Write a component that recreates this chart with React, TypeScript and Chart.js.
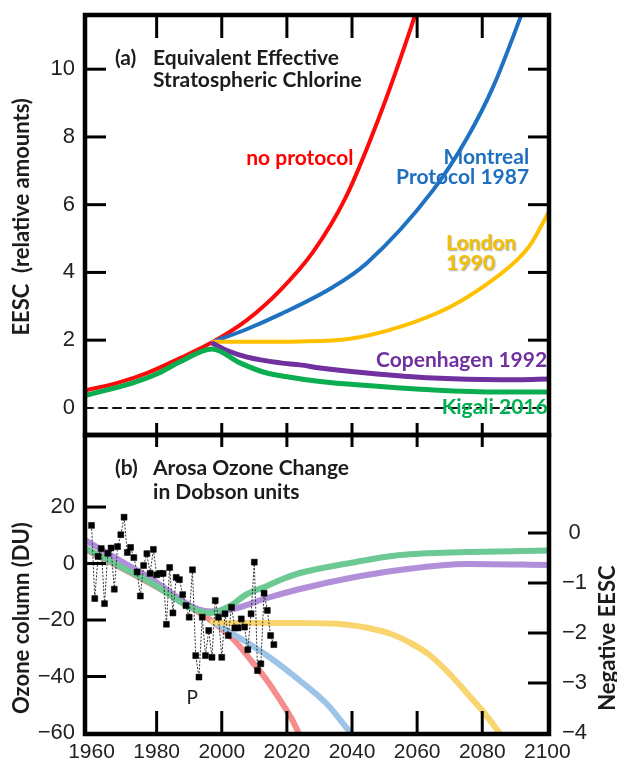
import React, { useEffect, useRef } from 'react';
import { Chart, registerables } from 'chart.js';

Chart.register(...registerables);

// ---------- axes ----------
const yearTicks = [1960, 1980, 2000, 2020, 2040, 2060, 2080, 2100];
const eescTicks = [0, 2, 4, 6, 8, 10];
const ozoneTicks = [-60, -40, -20, 0, 20];
const negEescTicks = [-4, -3, -2, -1, 0];

// ---------- panel (a): EESC ----------
const zeroYears = [1958, 2100.5];
const zeroEESC = [0, 0];

const noProtocolYears = [1958.6, 1968, 1977, 1987.2, 1997.3, 2007.8, 2018, 2028, 2038, 2048, 2058, 2062];
const noProtocolEESC = [0.53, 0.74, 1.03, 1.47, 1.95, 2.6, 3.48, 4.6, 6.2, 8.5, 11.2, 12.4];

const montrealYears = [1997.3, 2007.8, 2017.9, 2034.2, 2044.6, 2064.9, 2075.3, 2083.3, 2091.6, 2093.5];
const montrealEESC = [1.95, 2.33, 2.76, 3.57, 4.28, 6.43, 7.96, 9.47, 11.5, 12.0];

const londonYears = [1997.3, 2010, 2024, 2039.4, 2054.7, 2070.1, 2080.2, 2090.7, 2095, 2100.5];
const londonEESC = [1.95, 1.95, 1.96, 2.04, 2.39, 2.98, 3.57, 4.37, 4.85, 5.8];

const copenhagenYears = [1997.3, 2002, 2007.8, 2017.9, 2024, 2030.2, 2044.6, 2064.9, 2085.5, 2100.5];
const copenhagenEESC = [1.9, 1.68, 1.5, 1.33, 1.27, 1.18, 1.03, 0.88, 0.83, 0.85];

const kigaliYears = [1958.6, 1972.7, 1980, 1987.2, 1997, 2005.6, 2012.7, 2020, 2030.2, 2044.6, 2064.9, 2085.5, 2100.5];
const kigaliEESC = [0.38, 0.74, 1.0, 1.36, 1.74, 1.33, 1.06, 0.92, 0.78, 0.66, 0.53, 0.47, 0.47];

// ---------- panel (b): Arosa ozone (DU) ----------
const arosaYears = [
  1960, 1961, 1962, 1963, 1964, 1965, 1966, 1967, 1968, 1969,
  1970, 1971, 1972, 1973, 1974, 1975, 1976, 1977, 1978, 1979,
  1980, 1981, 1982, 1983, 1984, 1985, 1986, 1987, 1988, 1989,
  1990, 1991, 1992, 1993, 1994, 1995, 1996, 1997, 1998, 1999,
  2000, 2001, 2002, 2003, 2004, 2005, 2006, 2007, 2008, 2009,
  2010, 2011, 2012, 2013, 2014, 2015, 2016,
];
const arosaOzoneDU = [
  13.5, -12.4, 2.5, 5.3, -14.2, 3.6, 5.5, -9.1, 6, 10.2,
  16.4, 3.9, 5.7, 2.1, -3, -11.5, -0.7, 3.5, -3.5, 5,
  -4, -3.5, -3.5, -21.5, -1.4, -17.5, -4.9, -5.7, -11, -14.9,
  -19, -2.2, -32.6, -40.2, -19, -32.6, -23.7, -33.2, -13.1, -19,
  -33.2, -17.8, -25.5, -15.5, -22.8, -22.8, -19.6, -22.5, -30.5, -17.8,
  0.5, -37.9, -35.5, -10.5, -16.6, -25.5, -28.7,
];

// ---------- panel (b): negative EESC (right axis) ----------
const kigaliNegYears = [1958, 1977, 1996.4, 2002.5, 2007.8, 2013.9, 2018, 2024, 2039.4, 2054.7, 2075.3, 2100.5];
const kigaliNeg = [-0.3, -0.95, -1.6, -1.46, -1.22, -1.06, -0.94, -0.8, -0.6, -0.44, -0.38, -0.35];

const copenhagenNegYears = [1958, 1977, 1996.4, 2003.5, 2013.9, 2024, 2039.4, 2054.7, 2075.3, 2100.5];
const copenhagenNeg = [-0.14, -0.86, -1.57, -1.52, -1.3, -1.12, -0.9, -0.74, -0.62, -0.64];

const noProtocolNegYears = [1958, 1977, 1988, 1997.3, 2003.5, 2009.6, 2013.9, 2018, 2021.5, 2025];
const noProtocolNeg = [-0.32, -0.97, -1.38, -1.78, -2.12, -2.6, -2.95, -3.35, -3.72, -4.2];

const montrealNegYears = [1997.3, 2005, 2013.9, 2024.5, 2032.3, 2040.5];
const montrealNeg = [-1.78, -2.08, -2.45, -2.98, -3.42, -4.08];

const londonNegYears = [1997.3, 2004, 2024, 2038, 2045, 2052, 2058, 2064, 2070, 2075, 2080, 2086.5];
const londonNeg = [-1.78, -1.8, -1.8, -1.83, -1.9, -2.02, -2.2, -2.45, -2.82, -3.18, -3.55, -4.1];

// ---------- annotations (anchored in data coordinates) ----------
type Note = {
  text: string; year: number; value: number; align: CanvasTextAlign; color: string;
  size: number; bold?: boolean; rotate?: boolean; shadow?: boolean;
};
const DARK = '#1c1c1c';
const panelANotes: Note[] = [
  { text: '(a)', year: 1967.2, value: 10.33, align: 'left', color: DARK, size: 21, bold: true },
  { text: 'Equivalent Effective', year: 1978.9, value: 10.33, align: 'left', color: DARK, size: 21, bold: true },
  { text: 'Stratospheric Chlorine', year: 1978.9, value: 9.68, align: 'left', color: DARK, size: 21, bold: true },
  { text: 'no protocol', year: 2024, value: 7.38, align: 'center', color: '#ff0000', size: 21, bold: true },
  { text: 'Montreal', year: 2094.4, value: 7.41, align: 'right', color: '#1f6fc1', size: 21, bold: true },
  { text: 'Protocol 1987', year: 2094.4, value: 6.82, align: 'right', color: '#1f6fc1', size: 21, bold: true },
  { text: 'London', year: 2068.9, value: 4.87, align: 'left', color: '#f5c000', size: 21, bold: true, shadow: true },
  { text: '1990', year: 2068.9, value: 4.28, align: 'left', color: '#f5c000', size: 21, bold: true, shadow: true },
  { text: 'Copenhagen 1992', year: 2047.4, value: 1.41, align: 'left', color: '#7030a0', size: 21, bold: true },
  { text: 'Kigali 2016', year: 2067.6, value: 0.03, align: 'left', color: '#00b050', size: 21, bold: true },
  { text: 'EESC  (relative amounts)', year: 1938.7, value: 5.64, align: 'center', color: DARK, size: 22, bold: true, rotate: true },
];
const panelBNotes: Note[] = [
  { text: '(b)', year: 1967.2, value: 33.8, align: 'left', color: DARK, size: 21, bold: true },
  { text: 'Arosa Ozone Change', year: 1978.9, value: 33.8, align: 'left', color: DARK, size: 21, bold: true },
  { text: 'in Dobson units', year: 1978.9, value: 25.3, align: 'left', color: DARK, size: 21, bold: true },
  { text: 'P', year: 1990.9, value: -47.6, align: 'center', color: DARK, size: 19 },
  { text: 'Ozone column (DU)', year: 1938.7, value: -19.3, align: 'center', color: DARK, size: 22, bold: true, rotate: true },
  { text: 'Negative EESC', year: 2118.6, value: -26.4, align: 'center', color: DARK, size: 22, bold: true, rotate: true },
];

const pts = (xs: number[], ys: number[]) => xs.map((x, i) => ({ x, y: ys[i] }));
const fmt = (v: number) => (v < 0 ? '\u2212' + Math.abs(v) : String(v));
const Y_TICK_FONT = { family: '"Liberation Sans", Arial, sans-serif', size: 22 };
const X_TICK_FONT = { family: '"Liberation Sans", Arial, sans-serif', size: 21 };
const LABEL_FAMILY = 'Lato, "Open Sans", sans-serif';

function drawNotes(chart: any, notes: Note[]) {
  const { ctx, scales } = chart;
  for (const n of notes) {
    const px = scales.x.getPixelForValue(n.year);
    const py = scales.y.getPixelForValue(n.value);
    ctx.save();
    ctx.translate(px, py);
    if (n.rotate) ctx.rotate(-Math.PI / 2);
    ctx.font = `${n.bold ? 'bold ' : ''}${n.size}px ${LABEL_FAMILY}`;
    ctx.textAlign = n.align;
    ctx.textBaseline = 'middle';
    if (n.shadow) {
      ctx.shadowColor = 'rgba(110,110,110,0.6)';
      ctx.shadowOffsetX = 1;
      ctx.shadowOffsetY = 1;
      ctx.shadowBlur = 1.5;
    }
    ctx.fillStyle = n.color;
    ctx.fillText(n.text, 0, 0);
    ctx.restore();
  }
}

function makeDecor(panel: 'a' | 'b') {
  return {
    id: 'decor' + panel,
    afterDraw(chart: any) {
      const { ctx, chartArea: ca, scales } = chart;
      ctx.save();
      ctx.strokeStyle = '#000';
      ctx.lineWidth = 3;
      ctx.lineCap = 'butt';
      const line = (x1: number, y1: number, x2: number, y2: number) => {
        ctx.beginPath(); ctx.moveTo(x1, y1); ctx.lineTo(x2, y2); ctx.stroke();
      };
      const innerYears = yearTicks.slice(1, -1);
      const topLen = panel === 'a' ? 23 : 12;
      const botLen = panel === 'a' ? 12 : 23;
      for (const yr of innerYears) {
        const x = scales.x.getPixelForValue(yr);
        line(x, ca.top, x, ca.top + topLen);
        line(x, ca.bottom, x, ca.bottom - botLen);
      }
      if (panel === 'a') {
        for (const v of eescTicks.filter((t) => t > 0)) {
          const y = scales.y.getPixelForValue(v);
          line(ca.left, y, ca.left + 21, y);
          line(ca.right, y, ca.right - 21, y);
        }
      } else {
        for (const v of ozoneTicks.filter((t) => t > -60)) {
          const y = scales.y.getPixelForValue(v);
          line(ca.left, y, ca.left + 21, y);
        }
        for (const v of negEescTicks.filter((t) => t > -4)) {
          const y = scales.y2.getPixelForValue(v);
          line(ca.right, y, ca.right - 21, y);
        }
      }
      ctx.lineWidth = 4.5;
      ctx.strokeRect(ca.left, ca.top, ca.right - ca.left, ca.bottom - ca.top);
      ctx.restore();
      drawNotes(chart, panel === 'a' ? panelANotes : panelBNotes);
    },
  };
}

const fixWidth = (w: number) => (s: any) => {
  s.width = w; s.paddingTop = 0; s.paddingBottom = 0; s.paddingLeft = 0; s.paddingRight = 0;
};
const fixHeight = (h: number) => (s: any) => {
  s.height = h; s.paddingTop = 0; s.paddingBottom = 0; s.paddingLeft = 0; s.paddingRight = 0;
};

const lineDs = (label: string, data: any, color: string, width: number, order: number, yAxisID = 'y') => ({
  label, data, borderColor: color, borderWidth: width, pointRadius: 0, order, yAxisID,
  cubicInterpolationMode: 'monotone' as const, borderCapStyle: 'round' as const, fill: false,
});

export default function App() {
  const topRef = useRef<HTMLCanvasElement>(null);
  const botRef = useRef<HTMLCanvasElement>(null);

  useEffect(() => {
    const top = new Chart(topRef.current!, {
      type: 'line',
      data: {
        datasets: [
          { ...lineDs('zero', pts(zeroYears, zeroEESC), '#111', 2, 10), borderDash: [8, 6], cubicInterpolationMode: 'default' },
          lineDs('no protocol', pts(noProtocolYears, noProtocolEESC), '#ff0a0a', 4, 5),
          lineDs('Montreal Protocol 1987', pts(montrealYears, montrealEESC), '#1f72c2', 4, 4),
          lineDs('London 1990', pts(londonYears, londonEESC), '#ffc000', 4, 3),
          lineDs('Copenhagen 1992', pts(copenhagenYears, copenhagenEESC), '#7030a0', 5, 2),
          lineDs('Kigali 2016', pts(kigaliYears, kigaliEESC), '#0aad4f', 5, 1),
        ],
      },
      options: {
        animation: false,
        responsive: false,
        events: [],
        layout: { padding: { top: 15, right: 68, bottom: 5, left: 0 } },
        plugins: { legend: { display: false }, tooltip: { enabled: false } },
        scales: {
          x: { type: 'linear', min: 1958, max: 2100.5, display: false },
          y: {
            type: 'linear', min: -0.8, max: 11.6,
            afterFit: fixWidth(85),
            afterBuildTicks: (s: any) => { s.ticks = eescTicks.map((v) => ({ value: v })); },
            grid: { display: false, drawTicks: false },
            border: { display: false },
            ticks: { font: Y_TICK_FONT, color: '#222', padding: 10, callback: (v: any) => fmt(Number(v)) },
          },
        },
      },
      plugins: [makeDecor('a')],
    } as any);

    const bot = new Chart(botRef.current!, {
      type: 'line',
      data: {
        datasets: [
          {
            label: 'Arosa', data: pts(arosaYears, arosaOzoneDU), yAxisID: 'y', order: 0,
            borderColor: '#333', borderWidth: 1, borderDash: [2, 1.5],
            pointStyle: 'rect', pointRadius: 4.2, pointBackgroundColor: '#000', pointBorderColor: '#000', pointBorderWidth: 0.5,
            tension: 0,
          },
          lineDs('Kigali', pts(kigaliNegYears, kigaliNeg), '#6cc994', 6, 1, 'y2'),
          lineDs('Copenhagen', pts(copenhagenNegYears, copenhagenNeg), '#b18fd9', 6, 2, 'y2'),
          lineDs('London', pts(londonNegYears, londonNeg), '#f9d570', 6, 3, 'y2'),
          lineDs('Montreal', pts(montrealNegYears, montrealNeg), '#9cc4e6', 6, 4, 'y2'),
          lineDs('no protocol', pts(noProtocolNegYears, noProtocolNeg), '#f58d8d', 6, 5, 'y2'),
        ],
      },
      options: {
        animation: false,
        responsive: false,
        events: [],
        layout: { padding: { top: 5, right: 0, bottom: 0, left: 0 } },
        plugins: { legend: { display: false }, tooltip: { enabled: false } },
        scales: {
          x: {
            type: 'linear', min: 1958, max: 2100.5,
            afterFit: fixHeight(31),
            afterBuildTicks: (s: any) => { s.ticks = yearTicks.map((v) => ({ value: v })); },
            grid: { display: false, drawTicks: false },
            border: { display: false },
            ticks: { font: X_TICK_FONT, color: '#222', padding: 6, autoSkip: false, maxRotation: 0, callback: (v: any) => String(v) },
          },
          y: {
            type: 'linear', position: 'left', min: -60.35, max: 45.5,
            afterFit: fixWidth(85),
            afterBuildTicks: (s: any) => { s.ticks = ozoneTicks.map((v) => ({ value: v })); },
            grid: { display: false, drawTicks: false },
            border: { display: false },
            ticks: { font: Y_TICK_FONT, color: '#222', padding: 10, callback: (v: any) => fmt(Number(v)) },
          },
          y2: {
            type: 'linear', position: 'right', min: -4.02, max: 1.96,
            afterFit: fixWidth(68),
            afterBuildTicks: (s: any) => { s.ticks = negEescTicks.map((v) => ({ value: v })); },
            grid: { display: false, drawTicks: false },
            border: { display: false },
            ticks: { font: Y_TICK_FONT, color: '#222', padding: 13, crossAlign: 'center', callback: (v: any) => fmt(Number(v)) },
          },
        },
      },
      plugins: [makeDecor('b')],
    } as any);

    return () => { top.destroy(); bot.destroy(); };
  }, []);

  return (
    <div style={{ position: 'absolute', left: 0, top: 0, width: 617, height: 765, background: '#fff', overflow: 'hidden' }}>
      <canvas ref={topRef} width={617} height={440} style={{ position: 'absolute', left: 0, top: 0, width: 617, height: 440 }} />
      <canvas ref={botRef} width={617} height={335} style={{ position: 'absolute', left: 0, top: 430, width: 617, height: 335 }} />
    </div>
  );
}
